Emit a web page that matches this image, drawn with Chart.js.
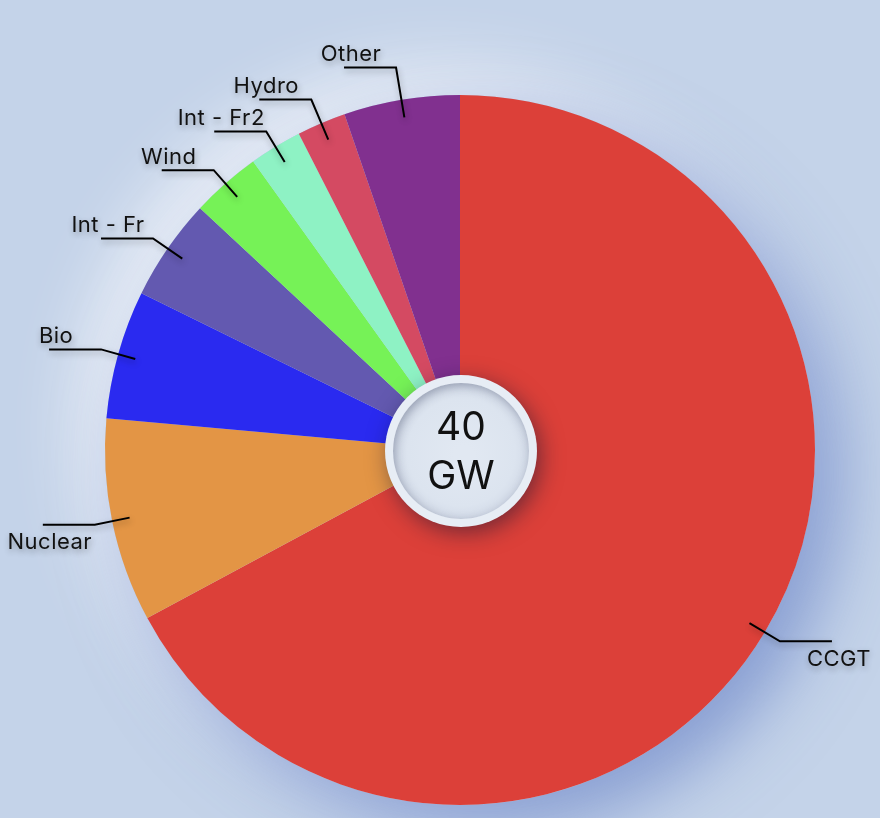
<!DOCTYPE html>
<html><head><meta charset="utf-8">
<script src="https://cdn.jsdelivr.net/npm/chart.js@4.4.1/dist/chart.umd.min.js"></script>
<style>
html,body{margin:0;padding:0;background:#c4d3e9;overflow:hidden;}
#wrap{width:880px;height:818px;position:relative;}
canvas{display:block;}
</style></head><body><div id="wrap"><canvas id="c" width="880" height="818"></canvas></div>
<script>
// ---- data ----
const categories = ['CCGT', 'Nuclear', 'Bio', 'Int - Fr', 'Wind', 'Int - Fr2', 'Hydro', 'Other'];
const generationGW = [26.86, 3.71, 2.34, 1.86, 1.27, 0.96, 0.89, 2.11];
const sliceColors = ['#dc4039', '#e39545', '#2a2af0', '#6359b0', '#76f257', '#8ef2c4', '#d44a62', '#81308f'];
const totalUnit = 'GW';

const BG = '#c4d3e9';
const LABEL_FONT = '22px Inter, "Liberation Sans", sans-serif';

const bgPlugin = {
  id: 'bg',
  beforeDraw(chart) {
    const ctx = chart.ctx;
    ctx.save();
    ctx.fillStyle = BG;
    ctx.fillRect(0, 0, chart.width, chart.height);
    ctx.restore();
  },
  beforeDatasetsDraw(chart) {
    const arc = chart.getDatasetMeta(0).data[0];
    if (!arc) return;
    const p = arc.getProps(['x', 'y', 'outerRadius'], true);
    const ctx = chart.ctx;
    ctx.save();
    ctx.fillStyle = BG;
    ctx.shadowColor = 'rgba(255,255,255,0.85)';
    ctx.shadowBlur = 70;
    ctx.shadowOffsetX = -22;
    ctx.shadowOffsetY = -22;
    ctx.beginPath(); ctx.arc(p.x, p.y, p.outerRadius, 0, Math.PI * 2); ctx.fill();
    ctx.shadowColor = 'rgba(70,100,185,0.55)';
    ctx.shadowBlur = 70;
    ctx.shadowOffsetX = 22;
    ctx.shadowOffsetY = 22;
    ctx.beginPath(); ctx.arc(p.x, p.y, p.outerRadius, 0, Math.PI * 2); ctx.fill();
    ctx.restore();
  }
};

const labelPlugin = {
  id: 'outlabels',
  afterDatasetsDraw(chart) {
    const ctx = chart.ctx;
    const meta = chart.getDatasetMeta(0);
    const items = meta.data.map((el, i) => {
      const p = el.getProps(['x', 'y', 'startAngle', 'endAngle', 'outerRadius'], true);
      const mid = (p.startAngle + p.endAngle) / 2;
      const c = Math.cos(mid), s = Math.sin(mid);
      return { i, cx: p.x, cy: p.y, R: p.outerRadius, c, s, r1: p.outerRadius * 0.95, r2: p.outerRadius * 1.05, side: c < 0 ? -1 : 1 };
    });
    const GAP = 32;
    [-1, 1].forEach(side => {
      const list = items.filter(it => it.side === side).sort((a, b) => b.s - a.s);
      let prevY = Infinity;
      list.forEach(it => {
        let ey = it.cy + it.s * it.r2;
        if (ey > prevY - GAP && it.s < -0.2) {
          ey = prevY - GAP;
          it.r2 = (ey - it.cy) / it.s;
        }
        prevY = ey;
      });
    });
    ctx.save();
    ctx.font = LABEL_FONT;
    try { ctx.letterSpacing = '0.5px'; } catch (e) {}
    items.forEach(it => {
      const sx = it.cx + it.c * it.r1, sy = it.cy + it.s * it.r1;
      const ex = it.cx + it.c * it.r2, ey = it.cy + it.s * it.r2;
      const lx = ex + it.side * 52;
      ctx.shadowColor = 'rgba(0,0,0,0.3)';
      ctx.shadowBlur = 6;
      ctx.shadowOffsetX = 1;
      ctx.shadowOffsetY = 3;
      ctx.strokeStyle = '#000';
      ctx.lineWidth = 2;
      ctx.beginPath();
      ctx.moveTo(sx, sy); ctx.lineTo(ex, ey); ctx.lineTo(lx, ey);
      ctx.stroke();
      ctx.fillStyle = '#111';
      ctx.textAlign = 'center';
      ctx.textBaseline = 'middle';
      const ty = ey < it.cy ? ey - 13 : ey + 18;
      ctx.fillText(categories[it.i], lx + 7, ty);
    });
    ctx.restore();
  },
  afterDraw(chart) {
    const arc = chart.getDatasetMeta(0).data[0];
    if (!arc) return;
    const p = arc.getProps(['x', 'y'], true);
    const cx = p.x + 1, cy = p.y + 1;
    const ctx = chart.ctx;
    ctx.save();
    ctx.shadowColor = 'rgba(15,20,50,0.5)';
    ctx.shadowBlur = 22;
    ctx.shadowOffsetX = 4;
    ctx.shadowOffsetY = 6;
    ctx.beginPath(); ctx.arc(cx, cy, 76, 0, Math.PI * 2);
    ctx.fillStyle = '#e7edf5'; ctx.fill();
    ctx.restore();
    // inner disc
    ctx.save();
    ctx.beginPath(); ctx.arc(cx, cy, 68, 0, Math.PI * 2);
    const g = ctx.createRadialGradient(cx + 3, cy + 5, 10, cx, cy, 68);
    g.addColorStop(0, '#e1e8f2'); g.addColorStop(0.75, '#dce4ef'); g.addColorStop(1, '#d3dbe8');
    ctx.fillStyle = g; ctx.fill();
    ctx.clip();
    ctx.shadowColor = 'rgba(40,50,80,0.35)';
    ctx.shadowBlur = 10; ctx.shadowOffsetX = 2; ctx.shadowOffsetY = 3;
    ctx.lineWidth = 20; ctx.strokeStyle = '#e7edf5';
    ctx.beginPath(); ctx.arc(cx, cy, 78, 0, Math.PI * 2); ctx.stroke();
    ctx.restore();
    // text
    const total = generationGW.reduce((a, b) => a + b, 0);
    ctx.save();
    ctx.fillStyle = '#111';
    ctx.textAlign = 'center';
    ctx.textBaseline = 'middle';
    ctx.font = '400 39px Inter, "Liberation Sans", sans-serif';
    ctx.fillText(String(Math.round(total)), cx, cy - 23);
    ctx.fillText(totalUnit, cx, cy + 26);
    ctx.restore();
  }
};

new Chart(document.getElementById('c'), {
  type: 'pie',
  data: {
    labels: categories,
    datasets: [{
      data: generationGW,
      backgroundColor: sliceColors,
      borderWidth: 0,
      hoverOffset: 0
    }]
  },
  options: {
    responsive: false,
    animation: false,
    devicePixelRatio: 1,
    layout: { padding: { left: 105, right: 65, top: 95, bottom: 13 } },
    plugins: { legend: { display: false }, tooltip: { enabled: false } }
  },
  plugins: [bgPlugin, labelPlugin]
});
</script>
</body></html>
